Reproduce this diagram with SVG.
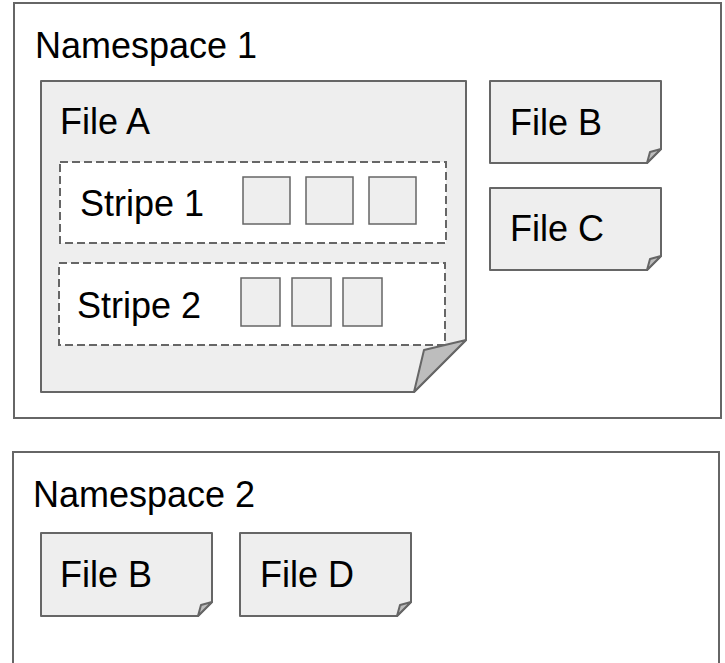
<svg xmlns="http://www.w3.org/2000/svg" width="725" height="663" viewBox="0 0 725 663">
  <style>
    .ns { fill: #ffffff; stroke: #666666; stroke-width: 2; }
    .file { fill: #eeeeee; stroke: #666666; stroke-width: 2; stroke-linejoin: round; }
    .fold { fill: #bdbdbd; stroke: #666666; stroke-width: 2; stroke-linejoin: round; }
    .stripe { fill: #ffffff; stroke: #666666; stroke-width: 2; stroke-dasharray: 8 4; }
    .block { fill: #eeeeee; stroke: #666666; stroke-width: 1.5; }
    .label { font-family: "Liberation Sans", Arial, sans-serif; font-size: 36px; fill: #000000; }
  </style>

  <!-- Namespace 1 container -->
  <g id="namespace1">
    <rect class="ns" x="14" y="3" width="707" height="415"/>
    <text class="label" x="35" y="58">Namespace 1</text>
  </g>

  <!-- File A with its two stripes -->
  <g id="fileA">
    <path class="file" d="M41,81 H466 V340 L414,392 H41 Z"/>
    <path class="fold" d="M466,340 L424,350 L414,392 Z"/>
    <text class="label" x="60" y="134">File A</text>
  </g>

  <g id="stripe1">
    <rect class="stripe" x="60" y="162" width="386" height="81"/>
    <text class="label" x="80" y="216">Stripe 1</text>
    <rect class="block" x="243" y="177" width="47" height="47"/>
    <rect class="block" x="306" y="177" width="47" height="47"/>
    <rect class="block" x="369" y="177" width="47" height="47"/>
  </g>

  <g id="stripe2">
    <rect class="stripe" x="59" y="263" width="386" height="82"/>
    <text class="label" x="77" y="318">Stripe 2</text>
    <rect class="block" x="241" y="278" width="39" height="48"/>
    <rect class="block" x="292" y="278" width="39" height="48"/>
    <rect class="block" x="343" y="278" width="39" height="48"/>
  </g>

  <g id="fileB1">
    <path class="file" d="M490,81 H661 V149 L647,163 H490 Z"/>
    <path class="fold" d="M661,149 L650,152 L647,163 Z"/>
    <text class="label" x="510" y="135">File B</text>
  </g>

  <g id="fileC">
    <path class="file" d="M490,188 H661 V256 L647,270 H490 Z"/>
    <path class="fold" d="M661,256 L650,259 L647,270 Z"/>
    <text class="label" x="510" y="241">File C</text>
  </g>

  <!-- Namespace 2 container -->
  <g id="namespace2">
    <rect class="ns" x="13" y="452" width="706" height="220"/>
    <text class="label" x="33" y="507">Namespace 2</text>
  </g>

  <g id="fileB2">
    <path class="file" d="M41,533 H212 V602 L198,616 H41 Z"/>
    <path class="fold" d="M212,602 L201,605 L198,616 Z"/>
    <text class="label" x="60" y="587">File B</text>
  </g>

  <g id="fileD">
    <path class="file" d="M240,533 H411 V602 L397,616 H240 Z"/>
    <path class="fold" d="M411,602 L400,605 L397,616 Z"/>
    <text class="label" x="260" y="587">File D</text>
  </g>

  <!-- no connectors in this diagram -->
  <g id="connectors"/>
</svg>
